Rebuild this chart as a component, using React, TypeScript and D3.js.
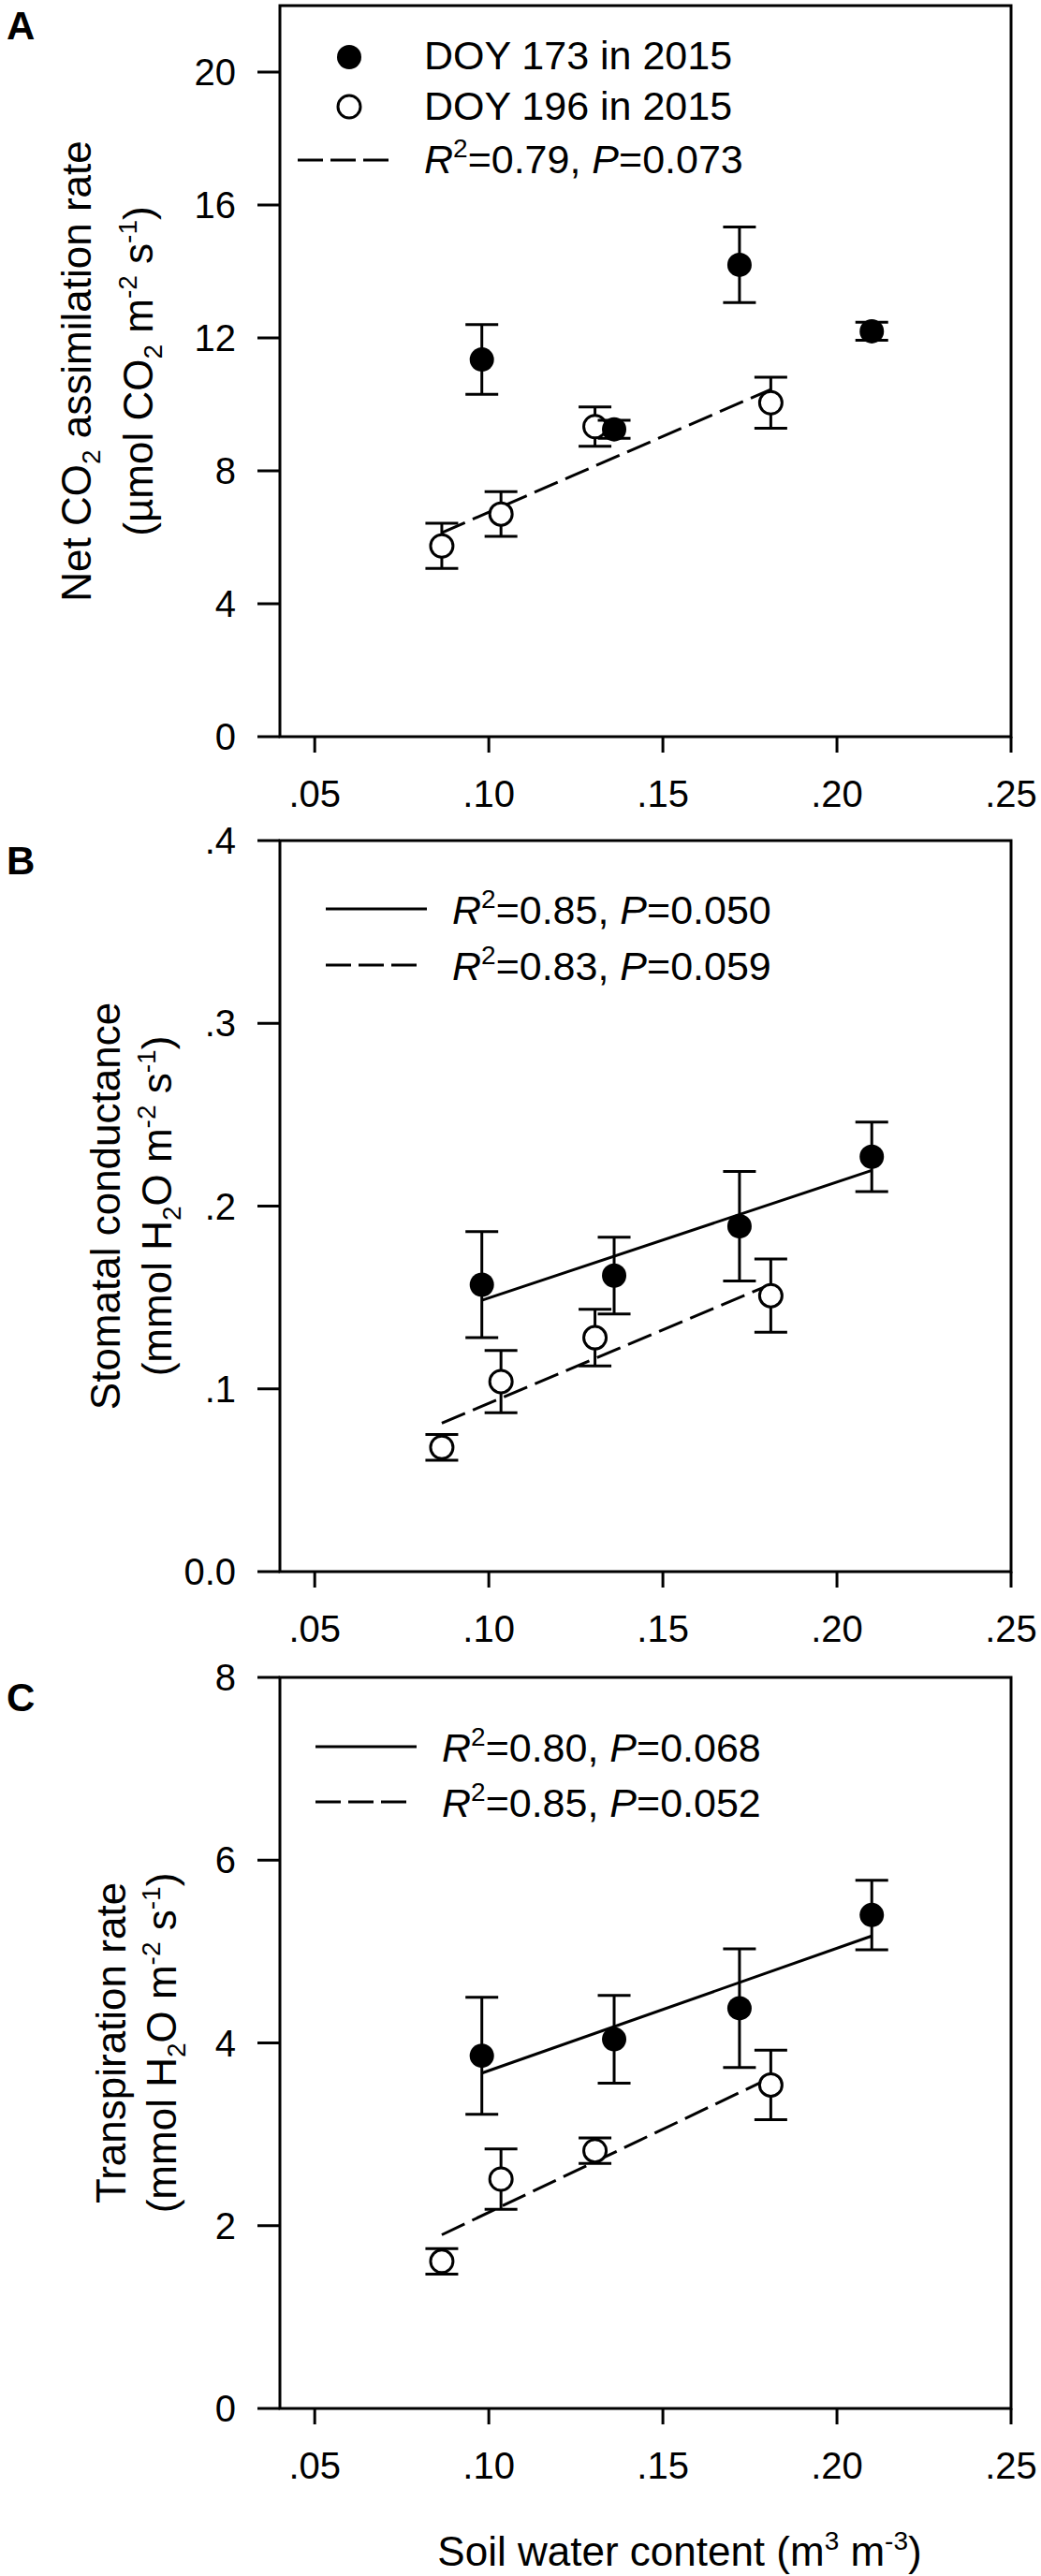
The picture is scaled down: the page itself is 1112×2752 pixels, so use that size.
import React, { useEffect } from "react";
import * as d3 from "d3";

// ---------- data ----------
const SWC_DOY173 = [0.098, 0.136, 0.172, 0.21];
const SWC_DOY196 = [0.0865, 0.1035, 0.1305, 0.181];
const X_TICKS = [0.05, 0.1, 0.15, 0.2, 0.25];

// Panel A: net CO2 assimilation
const A_DOY173 = [11.35, 9.25, 14.2, 12.2];
const A_DOY173_SE = [1.05, 0.27, 1.14, 0.27];
const A_DOY196 = [5.74, 6.7, 9.33, 10.05];
const A_DOY196_SE = [0.68, 0.67, 0.59, 0.77];
const A_FIT196 = [6.14, 10.45];
const A_TICKS = [0, 4, 8, 12, 16, 20];

// Panel B: stomatal conductance
const B_DOY173 = [0.157, 0.162, 0.189, 0.227];
const B_DOY173_SE = [0.029, 0.021, 0.03, 0.019];
const B_DOY196 = [0.068, 0.104, 0.128, 0.151];
const B_DOY196_SE = [0.007, 0.017, 0.0155, 0.02];
const B_FIT173 = [0.1485, 0.2195];
const B_FIT196 = [0.0812, 0.1572];
const B_TICKS = [0, 0.1, 0.2, 0.3, 0.4];

// Panel C: transpiration
const C_DOY173 = [3.86, 4.04, 4.38, 5.4];
const C_DOY173_SE = [0.64, 0.48, 0.65, 0.38];
const C_DOY196 = [1.61, 2.51, 2.82, 3.54];
const C_DOY196_SE = [0.14, 0.33, 0.14, 0.38];
const C_FIT173 = [3.67, 5.17];
const C_FIT196 = [1.9, 3.62];
const C_TICKS = [0, 2, 4, 6, 8];

const LEGEND_A = ["DOY 173 in 2015", "DOY 196 in 2015"];
const STATS_A = [{ r2: "0.79", p: "0.073" }];
const STATS_B = [{ r2: "0.85", p: "0.050" }, { r2: "0.83", p: "0.059" }];
const STATS_C = [{ r2: "0.80", p: "0.068" }, { r2: "0.85", p: "0.052" }];

// rich-text segments: [text, kind] with kind "" | "sub" | "sup" | "i"
const TITLE_A1 = [["Net CO", ""], ["2", "sub"], [" assimilation rate", ""]];
const TITLE_A2 = [["(µmol CO", ""], ["2", "sub"], [" m", ""], ["-2", "sup"], [" s", ""], ["-1", "sup"], [")", ""]];
const TITLE_B1 = [["Stomatal conductance", ""]];
const TITLE_C1 = [["Transpiration rate", ""]];
const TITLE_H2O = [["(mmol H", ""], ["2", "sub"], ["O m", ""], ["-2", "sup"], [" s", ""], ["-1", "sup"], [")", ""]];
const TITLE_X = [["Soil water content (m", ""], ["3", "sup"], [" m", ""], ["-3", "sup"], [")", ""]];

// ---------- styling ----------
const FONT = '"Liberation Sans", Arial, Helvetica, sans-serif';
const LEFT = 299;
const RIGHT = 1080;
const PH = 781;
const TICK_FS = 40;
const LEG_FS = 43;
const TITLE_FS = 44;
const SMALL_FS = 28;
const DASH = "27,9";

const x = d3.scaleLinear().domain([0.04, 0.25]).range([LEFT, RIGHT]);
const fmtX = (v: number) => d3.format(".2f")(v).replace(/^0/, "");

function Rich({ segs }: any) {
  let cur = 0;
  return (
    <>
      {segs.map((s: string[], i: number) => {
        const kind = s[1];
        const target = kind === "sub" ? 10 : kind === "sup" ? -17 : 0;
        const dy = target - cur;
        cur = target;
        return (
          <tspan
            key={i}
            dy={dy !== 0 ? dy : undefined}
            fontSize={kind === "sub" || kind === "sup" ? SMALL_FS : undefined}
            fontStyle={kind === "i" ? "italic" : undefined}
          >
            {s[0]}
          </tspan>
        );
      })}
    </>
  );
}

function Stat({ x0, y0, r2, p }: any) {
  const segs = [["R", "i"], ["2", "sup"], ["=" + r2 + ", ", ""], ["P", "i"], ["=" + p, ""]];
  return (
    <text x={x0} y={y0} fontSize={LEG_FS} fontFamily={FONT}>
      <Rich segs={segs} />
    </text>
  );
}

function Panel(p: any) {
  const top = p.top;
  const bottom = top + PH;
  const y = d3.scaleLinear().domain(p.yDomain).range([bottom, top]);
  const cap = 17.5;
  const line = (xs: number[], ys: number[]) =>
    d3.line<number>().x((d) => x(d)).y((_, i) => y(ys[i]))(xs) as string;

  const errBars = (xs: number[], ys: number[], es: number[]) =>
    xs.map((xv, i) => {
      const cx = x(xv);
      const y1 = y(ys[i] + es[i]);
      const y2 = y(ys[i] - es[i]);
      return (
        <g key={i} stroke="#000" strokeWidth={3}>
          <line x1={cx} x2={cx} y1={y1} y2={y2} />
          <line x1={cx - cap} x2={cx + cap} y1={y1} y2={y1} />
          <line x1={cx - cap} x2={cx + cap} y1={y2} y2={y2} />
        </g>
      );
    });

  const centerY = (top + bottom) / 2;

  return (
    <g>
      <text x={7} y={top + 36} fontSize={42} fontWeight="bold" fontFamily={FONT}>
        {p.letter}
      </text>

      <rect x={LEFT} y={top} width={RIGHT - LEFT} height={PH} fill="none" stroke="#000" strokeWidth={3} />

      {p.yTicks.map((t: number) => (
        <g key={"y" + t}>
          <line x1={LEFT - 24} x2={LEFT} y1={y(t)} y2={y(t)} stroke="#000" strokeWidth={3} />
          <text x={LEFT - 47} y={y(t)} dy="0.35em" textAnchor="end" fontSize={TICK_FS} fontFamily={FONT}>
            {p.yFmt(t)}
          </text>
        </g>
      ))}

      {X_TICKS.map((t) => (
        <g key={"x" + t}>
          <line x1={x(t)} x2={x(t)} y1={bottom} y2={bottom + 17} stroke="#000" strokeWidth={3} />
          <text x={x(t)} y={bottom + 75} textAnchor="middle" fontSize={TICK_FS} fontFamily={FONT}>
            {fmtX(t)}
          </text>
        </g>
      ))}

      <text
        transform={`translate(${p.titleX[0]},${centerY}) rotate(-90)`}
        textAnchor="middle"
        fontSize={TITLE_FS}
        fontFamily={FONT}
      >
        <Rich segs={p.title1} />
      </text>
      <text
        transform={`translate(${p.titleX[1]},${centerY}) rotate(-90)`}
        textAnchor="middle"
        fontSize={TITLE_FS}
        fontFamily={FONT}
      >
        <Rich segs={p.title2} />
      </text>

      {p.fit173 && (
        <path d={line([SWC_DOY173[0], SWC_DOY173[3]], p.fit173)} fill="none" stroke="#000" strokeWidth={3} />
      )}
      {p.fit196 && (
        <path
          d={line([SWC_DOY196[0], SWC_DOY196[3]], p.fit196)}
          fill="none"
          stroke="#000"
          strokeWidth={3}
          strokeDasharray={DASH}
        />
      )}

      {errBars(SWC_DOY196, p.open, p.openSE)}
      {SWC_DOY196.map((xv, i) => (
        <circle key={"o" + i} cx={x(xv)} cy={y(p.open[i])} r={12} fill="#fff" stroke="#000" strokeWidth={3} />
      ))}

      {errBars(SWC_DOY173, p.filled, p.filledSE)}
      {SWC_DOY173.map((xv, i) => (
        <circle key={"f" + i} cx={x(xv)} cy={y(p.filled[i])} r={13} fill="#000" />
      ))}

      {p.legend}
    </g>
  );
}

export default function App() {
  useEffect(() => {
    document.body.style.margin = "0";
  }, []);

  const legendA = (
    <g>
      <circle cx={373} cy={61} r={13} fill="#000" />
      <text x={453} y={74} fontSize={LEG_FS} fontFamily={FONT}>{LEGEND_A[0]}</text>
      <circle cx={373} cy={114} r={12} fill="#fff" stroke="#000" strokeWidth={3} />
      <text x={453} y={128} fontSize={LEG_FS} fontFamily={FONT}>{LEGEND_A[1]}</text>
      <line x1={318} x2={416} y1={171} y2={171} stroke="#000" strokeWidth={3} strokeDasharray="27,8" />
      <Stat x0={453} y0={185} r2={STATS_A[0].r2} p={STATS_A[0].p} />
    </g>
  );

  const legend2 = (lx: number, tx: number, y1: number, y2: number, stats: any[]) => (
    <g>
      <line x1={lx} x2={lx + 108} y1={y1} y2={y1} stroke="#000" strokeWidth={3} />
      <Stat x0={tx} y0={y1 + 16} r2={stats[0].r2} p={stats[0].p} />
      <line x1={lx} x2={lx + 97} y1={y2} y2={y2} stroke="#000" strokeWidth={3} strokeDasharray="27,8" />
      <Stat x0={tx} y0={y2 + 16} r2={stats[1].r2} p={stats[1].p} />
    </g>
  );

  return (
    <svg
      width={1112}
      height={2752}
      viewBox="0 0 1112 2752"
      style={{ display: "block", position: "absolute", left: 0, top: 0, background: "#fff" }}
    >
      <rect x={0} y={0} width={1112} height={2752} fill="#fff" />

      <Panel
        letter="A"
        top={6}
        yDomain={[0, 22]}
        yTicks={A_TICKS}
        yFmt={(v: number) => String(v)}
        filled={A_DOY173}
        filledSE={A_DOY173_SE}
        open={A_DOY196}
        openSE={A_DOY196_SE}
        fit173={null}
        fit196={A_FIT196}
        titleX={[97, 163]}
        title1={TITLE_A1}
        title2={TITLE_A2}
        legend={legendA}
      />

      <Panel
        letter="B"
        top={898}
        yDomain={[0, 0.4]}
        yTicks={B_TICKS}
        yFmt={(v: number) => (v === 0 ? "0.0" : d3.format(".1f")(v).replace(/^0/, ""))}
        filled={B_DOY173}
        filledSE={B_DOY173_SE}
        open={B_DOY196}
        openSE={B_DOY196_SE}
        fit173={B_FIT173}
        fit196={B_FIT196}
        titleX={[128, 183]}
        title1={TITLE_B1}
        title2={TITLE_H2O}
        legend={legend2(348, 483, 971, 1031, STATS_B)}
      />

      <Panel
        letter="C"
        top={1792}
        yDomain={[0, 8]}
        yTicks={C_TICKS}
        yFmt={(v: number) => String(v)}
        filled={C_DOY173}
        filledSE={C_DOY173_SE}
        open={C_DOY196}
        openSE={C_DOY196_SE}
        fit173={C_FIT173}
        fit196={C_FIT196}
        titleX={[134, 188]}
        title1={TITLE_C1}
        title2={TITLE_H2O}
        legend={legend2(337, 472, 1866, 1925, STATS_C)}
      />

      <text x={726} y={2741} textAnchor="middle" fontSize={TITLE_FS} fontFamily={FONT}>
        <Rich segs={TITLE_X} />
      </text>
    </svg>
  );
}
